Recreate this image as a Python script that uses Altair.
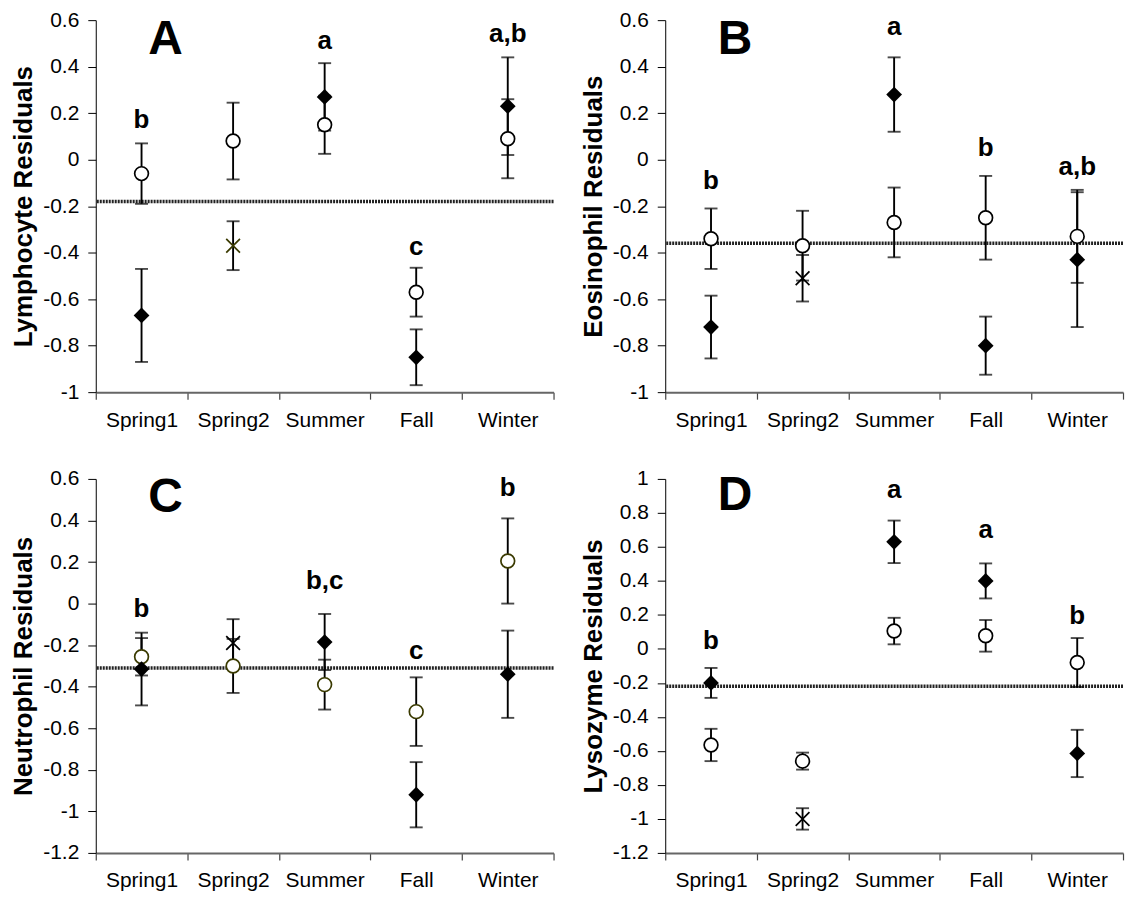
import altair as alt
import pandas as pd

seasons = ["Spring1", "Spring2", "Summer", "Fall", "Winter"]

# ---- Panel A: Lymphocyte ----
A_diamond = [-0.67, None, 0.27, -0.85, 0.23]
A_diamond_se = [0.20, None, 0.145, 0.12, 0.21]
A_circle = [-0.06, 0.08, 0.15, -0.57, 0.09]
A_circle_se = [0.13, 0.165, 0.125, 0.105, 0.17]
A_cross = [None, -0.37, None, None, None]
A_cross_se = [None, 0.105, None, None, None]
A_ref = -0.18
A_groups = ["b", None, "a", "c", "a,b"]
A_groups_y = [0.135, None, 0.476, -0.41, 0.505]

# ---- Panel B: Eosinophil ----
B_diamond = [-0.72, None, 0.28, -0.80, -0.43]
B_diamond_se = [0.135, None, 0.16, 0.125, 0.29]
B_circle = [-0.34, -0.37, -0.27, -0.25, -0.33]
B_circle_se = [0.13, 0.15, 0.15, 0.18, 0.20]
B_cross = [None, -0.51, None, None, None]
B_cross_se = [None, 0.10, None, None, None]
B_ref = -0.36
B_groups = ["b", None, "a", "b", "a,b"]
B_groups_y = [-0.128, None, 0.536, 0.014, -0.064]

# ---- Panel C: Neutrophil ----
C_diamond = [-0.315, None, -0.185, -0.92, -0.34]
C_diamond_se = [0.175, None, 0.135, 0.157, 0.21]
C_circle = [-0.256, -0.30, -0.39, -0.52, 0.205]
C_circle_se = [0.09, 0.13, 0.12, 0.165, 0.205]
C_cross = [None, -0.19, None, None, None]
C_cross_se = [None, 0.115, None, None, None]
C_ref = -0.31
C_groups = ["b", None, "b,c", "c", "b"]
C_groups_y = [-0.066, None, 0.069, -0.269, 0.52]

# ---- Panel D: Lysozyme ----
D_diamond = [-0.20, None, 0.63, 0.40, -0.615]
D_diamond_se = [0.088, None, 0.125, 0.103, 0.139]
D_circle = [-0.565, -0.66, 0.105, 0.077, -0.08]
D_circle_se = [0.095, 0.05, 0.078, 0.093, 0.144]
D_cross = [None, -1.0, None, None, None]
D_cross_se = [None, 0.063, None, None, None]
D_ref = -0.22
D_groups = ["b", None, "a", "a", "b"]
D_groups_y = [0.0, None, 0.887, 0.65, 0.145]

ticks_AB = [0.6, 0.4, 0.2, 0, -0.2, -0.4, -0.6, -0.8, -1]
ticks_C = [0.6, 0.4, 0.2, 0, -0.2, -0.4, -0.6, -0.8, -1, -1.2]
ticks_D = [1, 0.8, 0.6, 0.4, 0.2, 0, -0.2, -0.4, -0.6, -0.8, -1, -1.2]

FONT = "Liberation Sans"
OLIVE = "#3a3a00"
X_SHAPE = "M-1,-1L1,1M-1,1L1,-1"

W = 459


def panel(letter, letter_y, title, dia, dia_se, cir, cir_se, crs, crs_se, ref,
          groups, groups_y, ydomain, yticks, circle_color, cross_color, height):
    rows = []
    for kind, means, ses in [("diamond", dia, dia_se), ("circle", cir, cir_se), ("cross", crs, crs_se)]:
        for s, m, e in zip(seasons, means, ses):
            if m is None:
                continue
            rows.append(dict(season=s, kind=kind, mean=m, lo=m - e, hi=m + e))
    df = pd.DataFrame(rows)
    gdf = pd.DataFrame([dict(season=s, txt=t, y=v) for s, t, v in zip(seasons, groups, groups_y) if t])
    ref_df = pd.DataFrame({"ref": [ref]})
    let_df = pd.DataFrame({"txt": [letter], "y": [letter_y]})

    xenc = alt.X("season:N", sort=seasons,
                 scale=alt.Scale(type="band", domain=seasons, paddingInner=0, paddingOuter=0),
                 axis=alt.Axis(title=None, tickBand="extent", labelAngle=0, labelPadding=10,
                               domainColor="#666666", domainWidth=2, tickColor="#444444",
                               tickSize=7, tickWidth=1.2))
    yscale = alt.Scale(domain=ydomain, nice=False, zero=False)
    yaxis = alt.Axis(title=title, values=yticks, tickSize=8, labelPadding=9, titlePadding=6,
                     labelExpr="datum.value < 0 ? '-' + format(abs(datum.value), '.1~f') : format(datum.value, '.1~f')")

    def Y(field):
        return alt.Y(field, type="quantitative", scale=yscale, axis=yaxis)

    base = alt.Chart(df)
    refline = alt.Chart(ref_df).mark_rule(color="#222222", strokeWidth=3.5, strokeDash=[2, 1]).encode(y=Y("ref"))
    bars = base.mark_rule(color="black", strokeWidth=1.9).encode(x=xenc, y=Y("lo"), y2="hi")
    cap_lo = base.mark_tick(orient="horizontal", size=13, thickness=1.9, color="black").encode(x=xenc, y=Y("lo"))
    cap_hi = base.mark_tick(orient="horizontal", size=13, thickness=1.9, color="black").encode(x=xenc, y=Y("hi"))
    circles = base.transform_filter(alt.datum.kind == "circle").mark_point(
        shape="circle", filled=True, fill="white", stroke=circle_color, strokeWidth=1.7, size=190, opacity=1
    ).encode(x=xenc, y=Y("mean"))
    diamonds = base.transform_filter(alt.datum.kind == "diamond").mark_point(
        shape="diamond", filled=True, color="black", size=250, opacity=1
    ).encode(x=xenc, y=Y("mean"))
    crosses = base.transform_filter(alt.datum.kind == "cross").mark_point(
        shape=X_SHAPE, filled=False, stroke=cross_color, strokeWidth=1.7, size=190, opacity=1
    ).encode(x=xenc, y=Y("mean"))
    labels = alt.Chart(gdf).mark_text(font=FONT, fontSize=26, fontWeight="bold", color="black",
                                      baseline="alphabetic", align="center").encode(
        x=xenc, y=Y("y"), text="txt:N")
    big = alt.Chart(let_df).mark_text(font=FONT, fontSize=48, fontWeight="bold", color="black",
                                      baseline="alphabetic", align="center").encode(
        x=alt.value(70), y=Y("y"), text="txt:N")
    return alt.layer(refline, bars, cap_lo, cap_hi, circles, diamonds, crosses, labels, big).properties(
        width=W, height=height)


pA = panel("A", 0.455, "Lymphocyte Residuals", A_diamond, A_diamond_se, A_circle, A_circle_se,
           A_cross, A_cross_se, A_ref, A_groups, A_groups_y, [-1, 0.6], ticks_AB, "black", OLIVE, 373)
pB = panel("B", 0.455, "Eosinophil Residuals", B_diamond, B_diamond_se, B_circle, B_circle_se,
           B_cross, B_cross_se, B_ref, B_groups, B_groups_y, [-1, 0.6], ticks_AB, "black", "black", 373)
pC = panel("C", 0.441, "Neutrophil Residuals", C_diamond, C_diamond_se, C_circle, C_circle_se,
           C_cross, C_cross_se, C_ref, C_groups, C_groups_y, [-1.2, 0.6], ticks_C, OLIVE, "black", 375)
pD = panel("D", 0.819, "Lysozyme Residuals", D_diamond, D_diamond_se, D_circle, D_circle_se,
           D_cross, D_cross_se, D_ref, D_groups, D_groups_y, [-1.2, 1], ticks_D, "black", "black", 375)

chart = alt.vconcat(
    alt.hconcat(pA, pB, spacing=24),
    alt.hconcat(pC, pD, spacing=24),
    spacing=38,
).properties(
    padding={"left": 2, "top": 0, "right": 0, "bottom": 0},
    background="white",
).configure_view(stroke=None).configure_axis(
    grid=False,
    labelFont=FONT, labelFontSize=21, labelColor="black",
    titleFont=FONT, titleFontSize=26, titleFontWeight="bold", titleColor="black",
    domainColor="black", tickColor="black",
)

chart.save("out.html", embed_options={"renderer": "svg", "actions": False})
